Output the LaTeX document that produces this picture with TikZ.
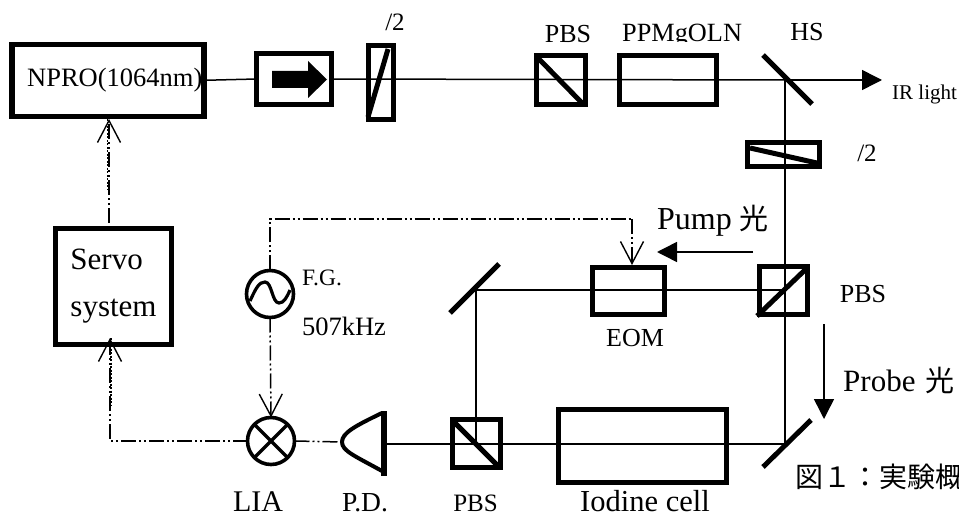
\documentclass[tikz,border=0pt]{standalone}
\usepackage{fontspec}
\setmainfont{Liberation Serif}
\newfontfamily\cjk{Noto Sans CJK JP}
\usetikzlibrary{arrows.meta}
\newcommand{\fsize}[1]{\fontsize{#1}{#1}\selectfont}
\begin{document}
\begin{tikzpicture}[line join=miter,x=1pt,y=-1pt,>={Triangle[length=20pt,width=20pt]},
	optic/.style={draw,line width=5.3pt,inner sep=0pt,outer sep=0pt},
	roundel/.style={draw,circle,line width=3.6pt,minimum size=47pt,inner sep=0pt,outer sep=0pt},
	beam/.style={line width=1.5pt},
	thickbar/.style={line width=5pt},
	signal/.style={line width=1.5pt,dash pattern=on 15pt off 3pt on 2pt off 3pt on 2pt off 3pt},
	dots/.style={line width=1.5pt,dash pattern=on 2pt off 1.5pt},
	barb/.style={-{Straight Barb[length=22pt,width=23pt,line width=1.4pt]}},
	tag/.style={anchor=base,inner sep=0pt}]
	\clip (0,0) rectangle (959,513);
	% boxes
	\node[optic,minimum width=192pt,minimum height=72pt] (npro) at (108,80.3) {};
	\node[optic,minimum width=75pt,minimum height=51pt] (iso) at (294,79) {};
	\node[optic,minimum width=25pt,minimum height=74pt] (wpa) at (381,82.5) {};
	\node[optic,minimum width=49pt,minimum height=49pt] (pbsa) at (561,80) {};
	\node[optic,minimum width=97pt,minimum height=49pt] (ppln) at (668,80) {};
	\node[optic,minimum width=72pt,minimum height=24pt] (wpb) at (783.5,154.5) {};
	\node[optic,minimum width=72pt,minimum height=47pt] (eom) at (628.5,291) {};
	\node[optic,minimum width=48pt,minimum height=48pt] (pbsb) at (783.5,290.5) {};
	\node[optic,minimum width=168pt,minimum height=73pt] (cell) at (642.5,446) {};
	\node[optic,minimum width=48pt,minimum height=48pt] (pbsc) at (476.5,443.5) {};
	\node[optic,minimum width=116pt,minimum height=116pt,align=left,font=\fontsize{31}{47}\selectfont] (servo) at (113.5,286.5) {Servo\\system};
	\node[roundel] (fg) at (270,294) {};
	\node[roundel] (lia) at (271,441) {};
	% points on the beam
	\coordinate (hs) at (785,80);
	\coordinate (irtip) at (882,80);
	\coordinate (mtop) at (476,290);
	\coordinate (mbot) at (785,444);
	\coordinate (pd) at (384,444);
	\coordinate (pdtip) at (342,442);
	\coordinate (gate) at (632,219);
	\coordinate (eomin) at (632,265);
	\coordinate (servoin) at (110,338);
	\coordinate (nproin) at (109,119);
	\coordinate (servotop) at (109,223);
	% beams
	\draw[beam] (npro.east) -- (iso.west);
	\draw[beam] (iso.east) -- (hs);
	\draw[beam,->] (hs) -- (irtip);
	\draw[beam] (hs) -- (mbot) -- (pd);
	\draw[beam] (mtop) -- (hs |- mtop);
	\draw[beam] (mtop) -- (mtop |- pd);
	% signals
	\draw[signal] (fg.north) |- (gate);
	\draw[signal,barb] (gate) -- (eomin);
	\draw[signal,barb] (fg.south) -- (lia.north);
	\draw[signal] (lia.east) -- (pdtip);
	\draw[signal,barb] (lia.west) -| (servoin);
	\draw[signal,barb] (servotop) -- (nproin);
	\draw[dots] (107.5,119) -- (107.5,190);
	\draw[dots] (111,338) -- (111,406);
	% arrow in the isolator
	\fill (272,71) -- (308,71) -- (308,61) -- (327,79.5) -- (308,98) -- (308,88) -- (272,88) -- cycle;
	% inner lines of the cubes and plates, then the mirrors
	\foreach \ax/\ay/\bx/\by in {388/49/368/117,750/148/817/163,538/58/583/104,757/316/807/268,452/420/499/467,763/55/812/104,450/313/499/264,763/467/811/420}
		\draw[thickbar] (\ax,\ay) -- (\bx,\by);
	% photo diode
	\draw[line width=6pt] (384,411) -- (384,476);
	\draw[line width=4pt] (382,413) .. controls (355,426) and (342,433) .. (342,442) .. controls (342,451) and (355,456) .. (382,471);
	% mixer and oscillator
	\draw[line width=3.2pt] (lia.45) -- (lia.225);
	\draw[line width=3.2pt] (lia.135) -- (lia.-45);
	\draw[line width=3.2pt] (250,301) .. controls (256,288) and (259,282) .. (265,282) .. controls (272,282) and (272,303) .. (279,303) .. controls (284,303) and (287,297) .. (290,290);
	% pump and probe
	\coordinate (pumpa) at (753,252);
	\coordinate (pumpb) at (657,252);
	\coordinate (probea) at (824,324);
	\coordinate (probeb) at (824,419);
	\draw[beam,->] (pumpa) -- (pumpb);
	\draw[beam,->] (probea) -- (probeb);
	% labels
	\node[tag,anchor=base west] (nprotext) at (27,87) {\fsize{26.5}NPRO(1064nm)};
	\node[tag] (wpatext) at (395,31) {\fsize{25}/2};
	\node[tag] (pbsatext) at (568,43) {\fsize{26}PBS};
	\begin{scope}
		\clip (600,0) rectangle (760,42);
		\node[tag,anchor=base west] (pplntext) at (622,42) {\fsize{26.3}PPMgOLN};
	\end{scope}
	\node[tag] (hstext) at (807,41) {\fsize{26}HS};
	\node[tag,anchor=base west] (irtext) at (892,100) {\fsize{21}IR light};
	\node[tag] (wpbtext) at (867,162) {\fsize{25}/2};
	\node[tag,anchor=base west] (pumptext) at (657,230) {\fsize{32}Pump {\cjk\fsize{29}光}};
	\node[tag] (fgtext) at (322,286) {\fsize{23.5}F.G.};
	\node[tag] (hztext) at (344,335) {\fsize{26.5}507kHz};
	\node[tag] (eomtext) at (635,346) {\fsize{26}EOM};
	\node[tag] (pbsbtext) at (863,302) {\fsize{26}PBS};
	\node[tag,anchor=base west] (probetext) at (843,391) {\fsize{31}Probe\hspace{2pt} {\cjk\fsize{29}光}};
	\node[tag,anchor=base west] (captext) at (795,487) {\cjk\fsize{28}図１：実験概};
	\node[tag] (liatext) at (258,511) {\fsize{30}LIA};
	\node[tag] (pdtext) at (365,511) {\fsize{27.5}P.D.};
	\node[tag] (pbsctext) at (475.5,511) {\fsize{25}PBS};
	\node[tag] (celltext) at (645,511) {\fsize{30.5}Iodine cell};
\end{tikzpicture}
\end{document}
